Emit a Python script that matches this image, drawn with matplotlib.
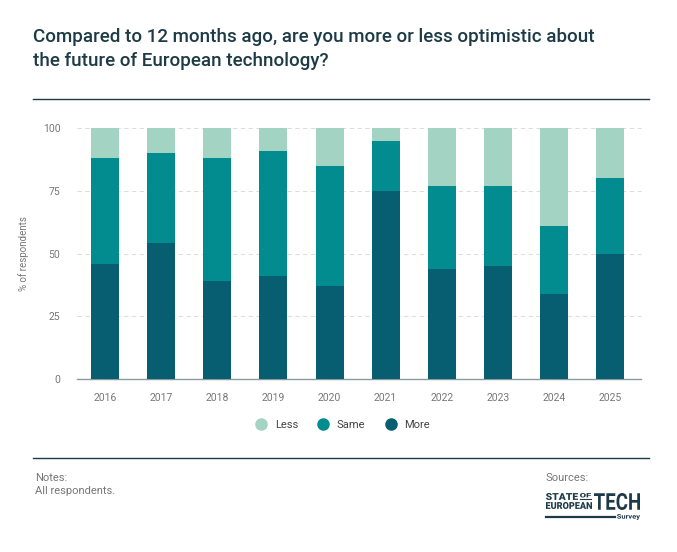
import numpy as np
import matplotlib.pyplot as plt
from matplotlib.lines import Line2D
from matplotlib.textpath import TextPath
from matplotlib.patches import PathPatch
from matplotlib.font_manager import FontProperties
from matplotlib.transforms import Affine2D

years = ['2016', '2017', '2018', '2019', '2020', '2021', '2022', '2023', '2024', '2025']
more = [46, 54, 39, 41, 37, 75, 44, 45, 34, 50]
same = [42, 36, 49, 50, 48, 20, 33, 32, 27, 30]
less = [12, 10, 12, 9, 15, 5, 23, 23, 39, 20]
series_names = ['Less', 'Same', 'More']

col_less = '#a3d4c3'
col_same = '#028c8f'
col_more = '#075e70'
dark = '#1d3b46'
grey = '#777777'

plt.rcParams['font.family'] = ['Roboto', 'DejaVu Sans']

W, H = 677, 552
fig = plt.figure(figsize=(W / 100, H / 100), dpi=100)


def px(x0, y0, x1, y1):
    # pixel box (top-left origin) -> figure fraction rect
    return [x0 / W, 1 - y1 / H, (x1 - x0) / W, (y1 - y0) / H]


def fy(y):
    return 1 - y / H


def fit_text(s, x0, y0, x1, y1, weight='black'):
    """Draw text stretched into a pixel box (used for the logo)."""
    tp = TextPath((0, 0), s, size=1, prop=FontProperties(family='Roboto', weight=weight))
    bb = tp.get_extents()
    tr = (Affine2D().translate(-bb.x0, -bb.y0)
          .scale((x1 - x0) / bb.width, (y1 - y0) / bb.height)
          .translate(x0, H - y1)
          .scale(1 / W, 1 / H) + fig.transFigure)
    fig.add_artist(PathPatch(tp, transform=tr, color=dark, lw=0))


# title
fig.text(33 / W, fy(28), 'Compared to 12 months ago, are you more or less optimistic about\nthe future of European technology?',
         fontsize=13.5, fontweight='medium', color=dark, va='top', ha='left', linespacing=1.45)
fig.add_artist(Line2D([33 / W, 649 / W], [fy(99)] * 2, color=dark, lw=1))

ax = fig.add_axes(px(77, 128, 641, 379))
x = np.arange(len(years))
more_a = np.array(more)
same_a = np.array(same)
less_a = np.array(less)
ax.bar(x, more_a, width=0.5, color=col_more, zorder=3)
ax.bar(x, same_a, width=0.5, bottom=more_a, color=col_same, zorder=3)
ax.bar(x, less_a, width=0.5, bottom=more_a + same_a, color=col_less, zorder=3)

ax.set_xlim(-0.5, len(years) - 0.45)
ax.set_ylim(0, 100)
ax.set_yticks([0, 25, 50, 75, 100])
ax.set_xticks(x)
ax.set_xticklabels(years)
ax.tick_params(length=0, labelsize=7.5, labelcolor=grey)
ax.tick_params(axis='x', pad=10)
ax.tick_params(axis='y', pad=12)
for s in ['top', 'right', 'left']:
    ax.spines[s].set_visible(False)
ax.spines['bottom'].set_color('#8a9aa0')
ax.spines['bottom'].set_linewidth(1)
ax.set_axisbelow(True)
for v in [25, 50, 75, 100]:
    ax.axhline(v, color='#dddddd', lw=0.8, ls=(0, (4, 3)), zorder=0, clip_on=False)
ax.set_ylabel('% of respondents', fontsize=7, color=grey, labelpad=10)

# legend
handles = [Line2D([], [], marker='o', ls='', markersize=8, color=c) for c in [col_less, col_same, col_more]]
fig.legend(handles, series_names, loc='center', bbox_to_anchor=(340 / W, fy(425)), ncol=3,
           frameon=False, fontsize=8, handletextpad=0.2, columnspacing=1.3, labelcolor='#444444')

# footer
fig.add_artist(Line2D([33 / W, 649 / W], [fy(458)] * 2, color=dark, lw=1))
fig.text(35 / W, fy(478), 'Notes:', fontsize=8, color=grey, va='center')
fig.text(35 / W, fy(491), 'All respondents.', fontsize=8, color=grey, va='center')
fig.text(546 / W, fy(478), 'Sources:', fontsize=8, color=grey, va='center')

# logo
fit_text('STATE', 546, 493, 578, 500)
fit_text('OF', 580, 493, 591, 497.5)
fig.add_artist(Line2D([580 / W, 591 / W], [fy(499)] * 2, color=dark, lw=0.8))
fit_text('EUROPEAN', 546, 502, 592, 509)
fit_text('TECH', 594, 493, 640, 510, weight='bold')
fig.add_artist(Line2D([546 / W, 615 / W], [fy(517)] * 2, color=dark, lw=1.6))
fit_text('Survey', 617, 514, 640, 520, weight='bold')

fig.savefig('out.png', dpi=100)
